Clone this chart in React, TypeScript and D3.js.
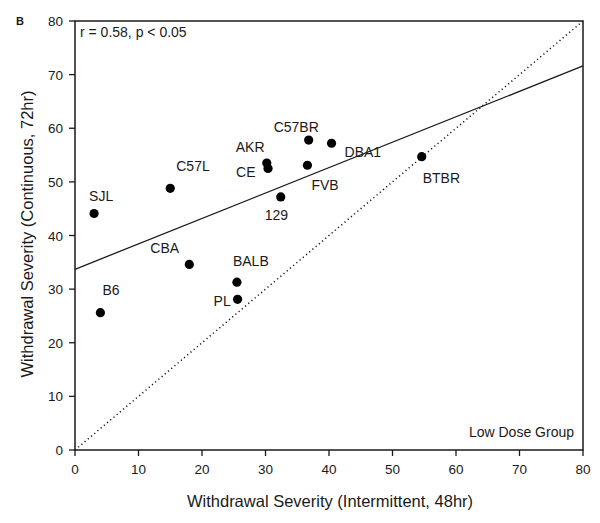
import React from "react";
import * as d3 from "d3";

const strains = ["SJL", "C57L", "CBA", "B6", "BALB", "PL", "AKR", "CE", "129", "C57BR", "DBA1", "FVB", "BTBR"];
const intermittent = [3.0, 15.0, 18.0, 4.0, 25.5, 25.6, 30.2, 30.4, 32.4, 36.8, 40.4, 36.6, 54.6];
const continuous = [44.1, 48.8, 34.6, 25.6, 31.3, 28.1, 53.5, 52.5, 47.2, 57.8, 57.2, 53.1, 54.7];
// label offsets in px relative to point (text start, baseline)
const labelDx = [-5, 6, -39, 2, -4, -24, -31, -32, -16, -35, 13, 4, 1];
const labelDy = [-13, -17, -11, -18, -16, 7, -11, 9, 23, -8, 14, 25, 26];
const xTicks = [0, 10, 20, 30, 40, 50, 60, 70, 80];
const yTicks = [0, 10, 20, 30, 40, 50, 60, 70, 80];
const fitIntercept = 33.7;
const fitSlope = 0.474;

const W = 600, H = 523;
const L = 75, R = 583, T = 21, B = 450;
const font = "'Liberation Sans', Arial, sans-serif";
const ink = "#1a1a1a";

export default function App() {
  const x = d3.scaleLinear().domain([0, 80]).range([L, R]);
  const y = d3.scaleLinear().domain([0, 80]).range([B, T]);
  const line = d3.line<[number, number]>().x(d => x(d[0])).y(d => y(d[1]));
  const fit: [number, number][] = [[0, fitIntercept], [80, fitIntercept + fitSlope * 80]];
  const ident: [number, number][] = [[0, 0], [80, 80]];
  return (
    <svg width={W} height={H} style={{ position: "absolute", left: 0, top: 0, background: "#fff" }} fontFamily={font}>
      <rect x={0} y={0} width={W} height={H} fill="#fff" />
      <path d={line(ident) || ""} stroke={ink} strokeWidth={1.5} strokeDasharray="1.2 3" fill="none" />
      <path d={line(fit) || ""} stroke={ink} strokeWidth={1.3} fill="none" />
      <rect x={L} y={T} width={R - L} height={B - T} fill="none" stroke={ink} strokeWidth={1.5} />
      {xTicks.map(t => (
        <g key={"x" + t}>
          <line x1={x(t)} x2={x(t)} y1={B} y2={B + 6} stroke={ink} strokeWidth={1.3} />
          <text x={x(t)} y={474} textAnchor="middle" fontSize={13.5} fill={ink}>{t}</text>
        </g>
      ))}
      {yTicks.map(t => (
        <g key={"y" + t}>
          <line x1={L - 6} x2={L} y1={y(t)} y2={y(t)} stroke={ink} strokeWidth={1.3} />
          <text x={63} y={y(t) + 5} textAnchor="end" fontSize={13.5} fill={ink}>{t}</text>
        </g>
      ))}
      {strains.map((s, i) => (
        <g key={s}>
          <circle cx={x(intermittent[i])} cy={y(continuous[i])} r={4.6} fill="#000" />
          <text x={x(intermittent[i]) + labelDx[i]} y={y(continuous[i]) + labelDy[i]} fontSize={14} fill={ink}>{s}</text>
        </g>
      ))}
      <text x={330} y={507} textAnchor="middle" fontSize={16.5} fill={ink}>Withdrawal Severity (Intermittent, 48hr)</text>
      <text transform={`translate(33,234) rotate(-90)`} textAnchor="middle" fontSize={16.5} fill={ink}>Withdrawal Severity (Continuous, 72hr)</text>
      <text x={16} y={25} fontSize={11} fontWeight="bold" fill={ink}>B</text>
      <text x={80} y={37} fontSize={14} fill={ink}>r = 0.58, p &lt; 0.05</text>
      <text x={574} y={437} textAnchor="end" fontSize={14} fill={ink}>Low Dose Group</text>
    </svg>
  );
}
